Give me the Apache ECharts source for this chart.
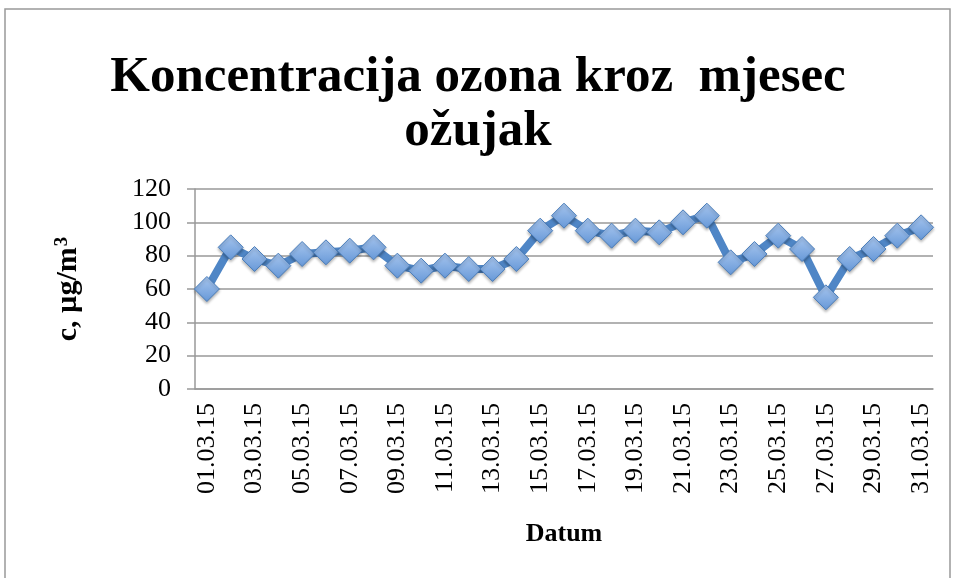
<!DOCTYPE html>
<html>
<head>
<meta charset="utf-8">
<script src="https://cdn.jsdelivr.net/npm/echarts@6/dist/echarts.min.js"></script>
<style>
html,body{margin:0;padding:0;background:#fff;}
#chart{width:956px;height:578px;}
</style>
</head>
<body>
<div id="chart"></div>
<script>
// datumi u ozujku
let dates = [];
for (let d = 1; d <= 31; d++) {
  dates.push((d < 10 ? '0' + d : '' + d) + '.03.15');
}
// koncentracija ozona, ug/m3
let ozone = [60, 85, 78, 74, 81, 82, 83, 85, 74, 71,
             74, 72, 72, 78, 95, 104, 95, 92, 95, 94,
             100, 104, 76, 81, 92, 84, 55, 78, 84, 92, 97];
let yTicks = [0, 120, 20]; // min, max, interval

let chart = echarts.init(document.getElementById('chart'));
let serif = '"Liberation Serif", "DejaVu Serif", serif';

let option = {
  animation: false,
  title: {
    text: 'Koncentracija ozona kroz  mjesec\nožujak',
    left: 'center',
    top: 46,
    textStyle: {
      fontFamily: serif,
      fontSize: 51,
      fontWeight: 'bold',
      color: '#000',
      lineHeight: 54
    }
  },
  graphic: [{
    type: 'rect',
    shape: { x: 5, y: 9, width: 945, height: 580 },
    style: { fill: 'none', stroke: '#999', lineWidth: 1.5 },
    silent: true
  }],
  grid: { left: 195, right: 23, top: 189, bottom: 189 },
  xAxis: {
    type: 'category',
    data: dates,
    name: 'Datum',
    nameLocation: 'middle',
    nameGap: 132,
    nameTextStyle: { fontFamily: serif, fontSize: 26, fontWeight: 'bold', color: '#000' },
    axisLine: { lineStyle: { color: '#999', width: 1.5 } },
    axisTick: { show: false },
    axisLabel: {
      interval: 1,
      rotate: 90,
      fontFamily: serif,
      fontSize: 26,
      color: '#000',
      margin: 14
    }
  },
  yAxis: {
    type: 'value',
    min: yTicks[0],
    max: yTicks[1],
    interval: yTicks[2],
    name: '{b|c, µg/m}{s|3}',
    nameLocation: 'middle',
    nameGap: 111,
    nameTextStyle: {
      rich: {
        b: { fontFamily: serif, fontSize: 30, fontWeight: 'bold', color: '#000' },
        s: { fontFamily: serif, fontSize: 19, fontWeight: 'bold', color: '#000', verticalAlign: 'top', padding: [0, 0, 12, 1] }
      }
    },
    axisLine: { show: true, lineStyle: { color: '#999', width: 1.5 } },
    axisTick: { show: true, length: 8, lineStyle: { color: '#999', width: 1.5 } },
    axisLabel: { fontFamily: serif, fontSize: 26, color: '#000', margin: 24 },
    splitLine: { lineStyle: { color: '#999', width: 1.5 } }
  },
  series: [{
    type: 'line',
    data: ozone,
    showAllSymbol: true,
    symbol: 'diamond',
    symbolSize: 25,
    lineStyle: { color: '#4f86c6', width: 8 },
    itemStyle: {
      color: {
        type: 'linear', x: 0, y: 0, x2: 0, y2: 1,
        colorStops: [
          { offset: 0, color: '#a8c6ee' },
          { offset: 1, color: '#6698d8' }
        ]
      },
      borderColor: '#4a7ebb',
      borderWidth: 1,
      shadowColor: 'rgba(0,0,0,0.3)',
      shadowBlur: 3,
      shadowOffsetY: 2
    }
  }]
};

chart.setOption(option);
window.addEventListener('resize', function () {
  chart.resize();
});
</script>
</body>
</html>
